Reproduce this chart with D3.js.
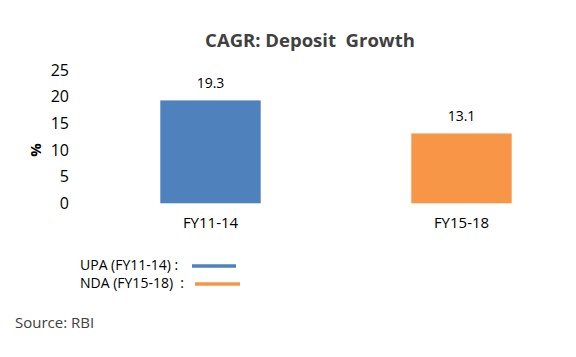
<!DOCTYPE html>
<html><head><meta charset="utf-8">
<script src="https://cdn.jsdelivr.net/npm/d3@7"></script>
<style>body{margin:0;background:#fff}svg{display:block;font-family:"Open Sans",sans-serif}</style>
</head><body><svg id="c" width="576" height="357"></svg>
<script>
const categories = ["FY11-14", "FY15-18"];
const values = [19.3, 13.1];
const colors = ["#4F81BD", "#F79646"];
const yTicks = [0, 5, 10, 15, 20, 25];
const legendLabels = ["UPA (FY11-14) :", "NDA (FY15-18)  :"];
const title = "CAGR: Deposit  Growth";
const source = "Source: RBI";

const svg = d3.select("#c");
const y = d3.scaleLinear().domain([0, 25]).range([203.3, 70]);
const x = d3.scaleBand().domain(categories).range([85, 587]).paddingInner(0.6).paddingOuter(0.3);

svg.append("text").attr("x", 310).attr("y", 47).attr("text-anchor", "middle")
  .attr("font-size", 18.5).attr("font-weight", "bold").attr("fill", "#404040")
  .style("white-space", "pre")
  .text(title);

const yAxis = d3.axisLeft(y).tickValues(yTicks).tickSize(0).tickPadding(0);
const ga = svg.append("g").attr("transform", "translate(69,0)").call(yAxis);
ga.select(".domain").remove();
ga.selectAll("text").attr("font-size", 16).attr("fill", "#000").attr("font-family", "Open Sans");

svg.append("text").attr("transform", "translate(41,150) rotate(-90)").attr("text-anchor", "middle")
  .attr("font-size", 15).attr("font-weight", "bold").attr("fill", "#000").text("%");

svg.selectAll("rect.bar").data(values).join("rect").attr("class", "bar")
  .attr("x", (d, i) => x(categories[i])).attr("width", x.bandwidth())
  .attr("y", d => y(d)).attr("height", d => y(0) - y(d))
  .attr("fill", (d, i) => colors[i]);

svg.selectAll("text.val").data(values).join("text").attr("class", "val")
  .attr("x", (d, i) => x(categories[i]) + x.bandwidth() / 2).attr("y", d => y(d) - 12)
  .attr("text-anchor", "middle").attr("font-size", 14).attr("fill", "#000")
  .text(d => d.toFixed(1));

const xAxis = d3.axisBottom(x).tickSize(0).tickPadding(0);
const gx = svg.append("g").attr("transform", "translate(0,217)").call(xAxis);
gx.select(".domain").remove();
gx.selectAll("text").attr("font-size", 15).attr("fill", "#000").attr("font-family", "Open Sans");

const lg = svg.selectAll("g.leg").data(legendLabels).join("g").attr("class", "leg")
  .attr("transform", (d, i) => `translate(80,${270 + i * 18})`);
lg.append("text").attr("font-size", 14).attr("fill", "#000").style("white-space", "pre").text(d => d);
lg.append("line").attr("x1", (d, i) => 112 + i * 3).attr("x2", (d, i) => 156 + i * 4)
  .attr("y1", -4).attr("y2", -4).attr("stroke", (d, i) => colors[i]).attr("stroke-width", 3.5);

svg.append("text").attr("x", 15).attr("y", 328).attr("font-size", 15).attr("fill", "#404040").text(source);
</script></body></html>
